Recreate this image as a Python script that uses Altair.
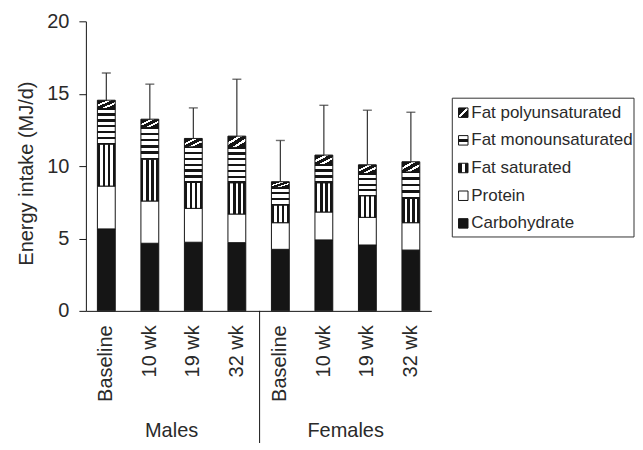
import altair as alt
import pandas as pd

# ---- data ----
groups = ["Males", "Males", "Males", "Males", "Females", "Females", "Females", "Females"]
times = ["Baseline", "10 wk", "19 wk", "32 wk", "Baseline", "10 wk", "19 wk", "32 wk"]
carbohydrate = [5.66, 4.67, 4.74, 4.71, 4.25, 4.90, 4.55, 4.20]
protein = [2.96, 2.92, 2.34, 1.98, 1.84, 1.93, 1.91, 1.89]
fat_saturated = [2.90, 2.89, 1.79, 2.16, 1.22, 2.02, 1.49, 1.68]
fat_monounsaturated = [2.46, 2.19, 2.46, 2.44, 1.22, 1.26, 1.54, 1.83]
fat_polyunsaturated = [0.57, 0.57, 0.58, 0.78, 0.39, 0.65, 0.60, 0.70]
sd = [1.88, 2.42, 2.11, 3.93, 2.85, 3.44, 3.77, 3.42]

segments = ["Carbohydrate", "Protein", "Fat saturated", "Fat monounsaturated", "Fat polyunsaturated"]
legend_labels = ["Fat polyunsaturated", "Fat monounsaturated", "Fat saturated", "Protein", "Carbohydrate"]
group_labels = ["Males", "Females"]

FONT = "Liberation Sans"
B = "#151515"
W = "#ffffff"
TXT = "#2a2a2a"

keys = [f"{g}|{t}" for g, t in zip(groups, times)]
series = [carbohydrate, protein, fat_saturated, fat_monounsaturated, fat_polyunsaturated]

rows = []
for i, k in enumerate(keys):
    base = 0.0
    for seg, vals in zip(segments, series):
        v = vals[i]
        rows.append(dict(key=k, segment=seg, y0=base, y1=base + v,
                         nstripes=max(2, int(round(v / 0.42)))))
        base += v
df = pd.DataFrame(rows)

tot = [sum(s[i] for s in series) for i in range(len(keys))]
df_err = pd.DataFrame(dict(key=keys, total=tot, top=[t + e for t, e in zip(tot, sd)]))
df_grp = pd.DataFrame(dict(key=[keys[1], keys[5]], label=group_labels))
df_one = pd.DataFrame(dict(a=[0]))
df_leg = pd.DataFrame(dict(label=legend_labels))


def hard_stops(pattern):
    total = sum(w for _, w in pattern)
    stops, pos = [], 0.0
    for c, w in pattern:
        stops.append(alt.GradientStop(color=c, offset=pos / total))
        pos += w
        stops.append(alt.GradientStop(color=c, offset=min(1.0, pos / total)))
    return stops


def lin(pattern, x1, y1, x2, y2):
    return alt.LinearGradient(gradient="linear", stops=hard_stops(pattern),
                              x1=x1, y1=y1, x2=x2, y2=y2)


sat_grad = lin([(B, 1), (W, 1)] * 3 + [(B, 1)], 0, 0, 1, 0)
poly_grad = lin([(B, 3), (W, 1.3), (B, 2.2), (W, 1.3), (B, 3)], 0, 0, 1, 1)


def mono_grad(n):
    pat = [(B, 0.4)]
    for j in range(n):
        pat.append((W, 1.1))
        pat.append((B, 0.7 if j < n - 1 else 0.4))
    return lin(pat, 0, 0, 0, 1)


x_enc = alt.X("key:N", sort=keys,
              scale=alt.Scale(paddingInner=0.59, paddingOuter=0.265),
              axis=alt.Axis(title=None, ticks=False, grid=False, labelAngle=270,
                            labelExpr="split(datum.label, '|')[1]",
                            labelFontSize=20, labelFont=FONT, labelColor=TXT,
                            labelPadding=14, domainColor=B, domainWidth=1))
y_enc = alt.Y("y0:Q", scale=alt.Scale(domain=[0, 20], nice=False),
              axis=alt.Axis(title="Energy intake (MJ/d)", values=[0, 5, 10, 15, 20],
                            grid=False, tickSize=7, tickColor=B, domainColor=B,
                            labelFontSize=20, labelFont=FONT, labelColor=TXT,
                            labelPadding=10, titleFontSize=20, titleFont=FONT,
                            titleFontWeight="normal", titleColor=TXT, titlePadding=10,
                            titleY=152))

base = alt.Chart(df)
bar_kw = dict(stroke=B, strokeWidth=1)
layers = [
    base.transform_filter(alt.datum.segment == "Carbohydrate")
        .mark_bar(fill=B, **bar_kw).encode(x=x_enc, y=y_enc, y2="y1:Q"),
    base.transform_filter(alt.datum.segment == "Protein")
        .mark_bar(fill=W, **bar_kw).encode(x=x_enc, y=y_enc, y2="y1:Q"),
    base.transform_filter(alt.datum.segment == "Fat saturated")
        .mark_bar(fill=sat_grad, **bar_kw).encode(x=x_enc, y=y_enc, y2="y1:Q"),
]
mono_counts = sorted(set(df[df.segment == "Fat monounsaturated"].nstripes))
for n in mono_counts:
    layers.append(
        base.transform_filter((alt.datum.segment == "Fat monounsaturated") & (alt.datum.nstripes == int(n)))
            .mark_bar(fill=mono_grad(int(n)), **bar_kw).encode(x=x_enc, y=y_enc, y2="y1:Q"))
layers.append(
    base.transform_filter(alt.datum.segment == "Fat polyunsaturated")
        .mark_bar(fill=poly_grad, **bar_kw).encode(x=x_enc, y=y_enc, y2="y1:Q"))

err = alt.Chart(df_err)
layers.append(err.mark_rule(color="#333333", strokeWidth=1.2).encode(
    x=x_enc, y=alt.Y("total:Q"), y2="top:Q"))
layers.append(err.mark_tick(color="#333333", thickness=1.4, size=9).encode(
    x=x_enc, y=alt.Y("top:Q")))
layers.append(alt.Chart(df_grp).mark_text(fontSize=20, font=FONT, color=TXT, dx=21.8,
                                          baseline="middle").encode(
    x=x_enc, y=alt.value(410), text="label:N"))
layers.append(alt.Chart(df_one).mark_rule(color=B, strokeWidth=1).encode(
    x=alt.value(174), y=alt.value(290), y2=alt.value(429)))

# ---- legend (drawn to the right of the plot area) ----
LX0, LX1, LY0, LY1 = 367, 549, 77, 216
item_y = [91.5, 119.2, 146.9, 174.7, 202.4]
sym_fill = {
    "Fat polyunsaturated": lin([(B, 3.2), (W, 1.6), (B, 3.2)], 0, 0, 1, 1),
    "Fat monounsaturated": lin([(W, 1), (B, 0.7), (W, 1)], 0, 0, 0, 1),
    "Fat saturated": lin([(B, 1.1), (W, 0.8), (B, 1.1)], 0, 0, 1, 0),
    "Protein": W,
    "Carbohydrate": B,
}
layers.append(alt.Chart(df_one).mark_rect(fill="white", stroke="#333333", strokeWidth=1).encode(
    x=alt.value(LX0), x2=alt.value(LX1), y=alt.value(LY0), y2=alt.value(LY1)))
for lab, yy in zip(legend_labels, item_y):
    leg = alt.Chart(df_leg).transform_filter(alt.datum.label == lab)
    layers.append(leg.mark_square(size=90, fill=sym_fill[lab], stroke=B, strokeWidth=1,
                                  filled=True, opacity=1)
                  .encode(x=alt.value(LX0 + 11), y=alt.value(yy)))
    layers.append(leg.mark_text(align="left", baseline="middle", fontSize=17,
                                font=FONT, color=TXT)
                  .encode(x=alt.value(LX0 + 19), y=alt.value(yy), text="label:N"))

chart = alt.layer(*layers).properties(
    width=346, height=290,
    padding={"top": 3, "left": 8, "right": 0, "bottom": -8}
).configure(font=FONT).configure_view(strokeWidth=0, stroke="transparent").configure_axis(grid=False)

chart.save("out.html", embed_options={"renderer": "svg", "actions": False})
